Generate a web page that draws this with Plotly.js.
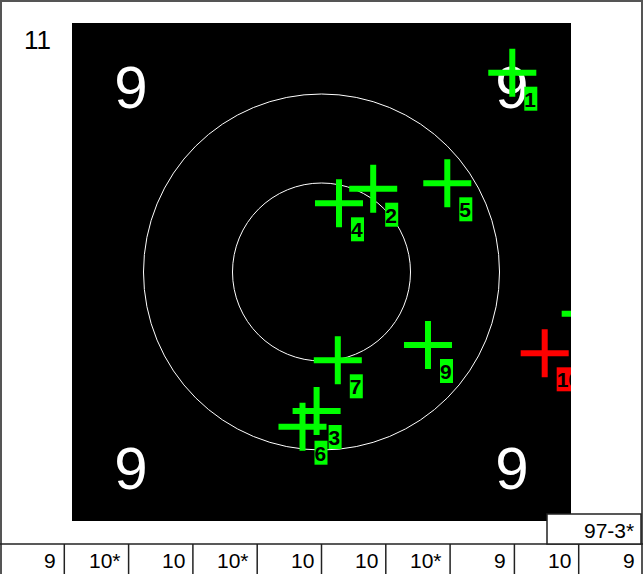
<!DOCTYPE html>
<html><head><meta charset="utf-8">
<script src="https://cdn.plot.ly/plotly-3.0.1.min.js"></script>
<style>html,body{margin:0;padding:0;background:#fff}#chart{width:643px;height:574px}</style>
</head><body><div id="chart"></div>
<script>
// ---- data ----
const seriesNumber = '11';
const shotNumbers = [1, 2, 3, 4, 5, 6, 7, 8, 9, 10];
const shotX = [190.8, 51.7, -4.9, 17.5, 125.8, -19.0, 16.3, 264.2, 106.5, 223.2];
const shotY = [199.3, 83.3, -139.0, 68.7, 88.7, -154.7, -88.3, -41.7, -73.0, -81.3];
const shotScores = ['9', '10*', '10', '10*', '10', '10', '10*', '9', '10', '9'];
const seriesTotal = '97-3*';
const ringRadii = [89, 178];
const ringLabel = '9';

// ---- style / layout constants ----
const W = 643, H = 574;
const L = 72, T = 23, PW = 499, PH = 498;
const GREEN = '#00ff00', RED = '#ff0000';
const FONT = 'Liberation Sans, Arial, sans-serif';
const LABEL_FS = 21;
const LABEL_DX = 12, LABEL_BASE = 34;
const pxX = p => (p - L) / PW;
const pxY = p => (T + PH - p) / PH;

const xr = [-PW / 2, PW / 2];
const yr = [-PH / 2, PH / 2];
const shotColors = shotNumbers.map((n, i) => i === shotNumbers.length - 1 ? RED : GREEN);

const traces = [
  {
    type: 'scatter', mode: 'markers', x: shotX, y: shotY,
    marker: {symbol: 'cross-thin-open', size: 34.3, color: shotColors, line: {width: 6, color: shotColors}},
    hoverinfo: 'skip'
  },
  {
    type: 'scatter', mode: 'text', x: shotX, y: shotY, xaxis: 'x2', yaxis: 'y2',
    text: shotNumbers.map(String), textposition: 'bottom right',
    textfont: {family: FONT, size: LABEL_FS, color: '#000', weight: 'bold'},
    hoverinfo: 'skip'
  }
];

const shapes = [];
ringRadii.forEach(r => shapes.push({
  type: 'circle', xref: 'x', yref: 'y', x0: -r, x1: r, y0: -r, y1: r,
  line: {color: '#ffffff', width: 1}, layer: 'below'
}));
const ringLabelR = 190.5, ringLabelBox = 35;
[[-1, 1], [1, 1], [-1, -1], [1, -1]].forEach(([sx, sy]) => shapes.push({
  type: 'rect', xref: 'x', yref: 'y',
  x0: sx * ringLabelR - ringLabelBox, x1: sx * ringLabelR + ringLabelBox,
  y0: sy * ringLabelR - ringLabelBox, y1: sy * ringLabelR + ringLabelBox,
  line: {width: 0}, layer: 'below',
  label: {text: ringLabel, font: {family: FONT, size: 60, color: '#ffffff'}, textposition: 'middle center'}
}));
shotNumbers.forEach((n, i) => shapes.push({
  type: 'rect', xref: 'x', yref: 'y', xsizemode: 'pixel', ysizemode: 'pixel',
  xanchor: shotX[i], yanchor: shotY[i],
  x0: LABEL_DX, x1: LABEL_DX + 13 * String(n).length, y0: -14, y1: -38,
  fillcolor: shotColors[i], line: {width: 0}, layer: 'below'
}));
// frame and table
const cellW = W / shotScores.length;
shapes.push({type: 'rect', xref: 'paper', yref: 'paper', x0: pxX(1), x1: pxX(642), y0: pxY(1), y1: pxY(576),
  line: {color: '#555555', width: 2}, layer: 'above'});
shapes.push({type: 'line', xref: 'paper', yref: 'paper', x0: pxX(0), x1: pxX(W), y0: pxY(544), y1: pxY(544),
  line: {color: '#222', width: 1.5}, layer: 'above'});
for (let k = 1; k < shotScores.length; k++) {
  shapes.push({type: 'line', xref: 'paper', yref: 'paper', x0: pxX(k * cellW), x1: pxX(k * cellW),
    y0: pxY(544), y1: pxY(H + 2), line: {color: '#222', width: 1.5}, layer: 'above'});
}
shapes.push({type: 'rect', xref: 'paper', yref: 'paper', x0: pxX(547), x1: pxX(641), y0: pxY(514), y1: pxY(544),
  fillcolor: '#ffffff', line: {color: '#222', width: 1.5}, layer: 'above'});

const annotations = [
  {xref: 'paper', yref: 'paper', x: pxX(22), y: pxY(40), xanchor: 'left', yanchor: 'middle',
   text: seriesNumber, showarrow: false, font: {family: FONT, size: 26, color: '#000'}},
  {xref: 'paper', yref: 'paper', x: pxX(636), y: pxY(530), xanchor: 'right', yanchor: 'middle',
   text: seriesTotal, showarrow: false, font: {family: FONT, size: 21, color: '#000'}}
];
shotScores.forEach((s, i) => annotations.push({
  xref: 'paper', yref: 'paper', x: pxX((i + 1) * cellW - 6), y: pxY(560), xanchor: 'right', yanchor: 'middle',
  text: s, showarrow: false, font: {family: FONT, size: 21, color: '#000'}
}));

const layout = {
  width: W, height: H, margin: {l: L, r: W - L - PW, t: T, b: H - T - PH, pad: 0},
  paper_bgcolor: '#ffffff', plot_bgcolor: '#000000', showlegend: false, hovermode: false,
  xaxis: {range: xr, visible: false, fixedrange: true},
  yaxis: {range: yr, visible: false, fixedrange: true},
  xaxis2: {overlaying: 'x', anchor: 'y2', range: [xr[0] - LABEL_DX, xr[1] - LABEL_DX], visible: false, fixedrange: true},
  yaxis2: {overlaying: 'y', anchor: 'x2', range: [yr[0] + (LABEL_BASE - 0.75 * LABEL_FS), yr[1] + (LABEL_BASE - 0.75 * LABEL_FS)], visible: false, fixedrange: true},
  shapes: shapes, annotations: annotations
};
Plotly.newPlot('chart', traces, layout, {displayModeBar: false, staticPlot: true});
</script></body></html>
